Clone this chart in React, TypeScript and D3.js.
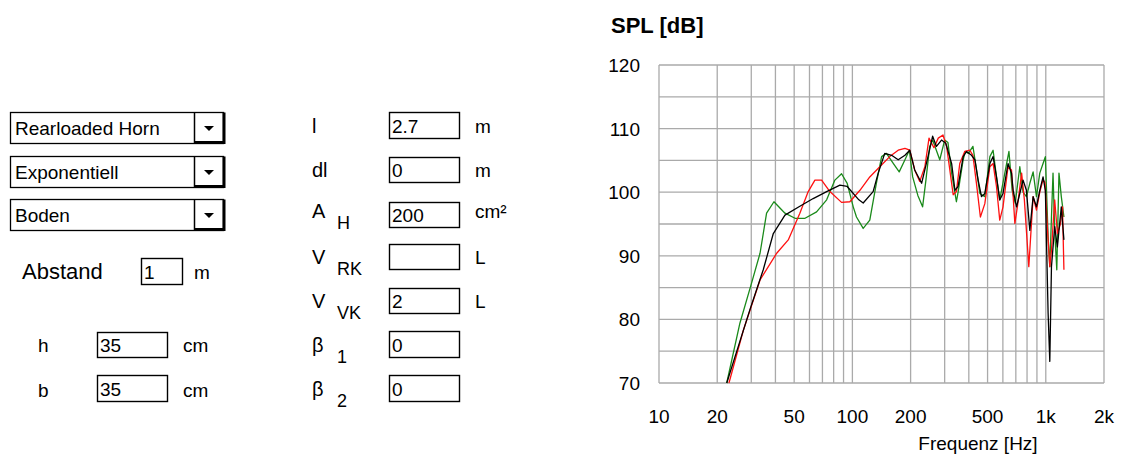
import React from "react";
import * as d3 from "d3";

// ---------- data ----------
const blackFreq = [22.4, 29.5, 34.6, 39, 44.8, 53.5, 62.7, 73.6, 86.2, 94, 108, 113.7, 128, 136, 147, 159.5, 172.5, 187, 198, 210, 228, 246, 260, 272, 289, 304, 326, 339, 352, 374, 389, 413, 430, 447, 465, 484, 514, 534, 556, 578, 601, 638, 665, 678, 706, 734, 763, 794, 827, 860, 895, 931, 968, 995, 1028, 1049, 1070, 1112, 1148, 1203, 1241];
const blackSpl = [70, 81.5, 87.8, 93.5, 96.4, 97.8, 99.0, 100.1, 101.1, 100.9, 98.8, 98.3, 100.1, 103, 106.1, 105.8, 105.1, 105.8, 106.6, 103.5, 101.4, 105.6, 108.8, 107.2, 108.2, 107.7, 104.5, 100.3, 100.9, 105.6, 106.4, 105.8, 105.1, 101.9, 99.3, 99.8, 104.5, 105.6, 102.4, 98.8, 99.8, 104.5, 103, 100.3, 97.7, 99.8, 101.9, 100.3, 94, 99.3, 97.7, 100.3, 102.4, 100.3, 81, 73.4, 88.3, 94.6, 91.4, 97.7, 92.5];

const redFreq = [23, 27.3, 33.3, 40.6, 46.6, 53.5, 59.1, 64, 69.3, 76.5, 87.9, 97, 109.4, 123, 138.6, 156, 172.5, 187, 198, 210, 223, 237, 249, 264, 278, 294, 307, 319, 332, 345, 359, 381, 405, 420, 438, 459, 484, 514, 534, 556, 578, 601, 638, 665, 692, 713, 750, 775, 817, 860, 895, 931, 968, 990, 1028, 1049, 1070, 1112, 1148, 1190, 1220, 1241];
const redSpl = [70, 78.3, 86.2, 90.4, 92.5, 96.7, 100.1, 101.9, 101.9, 100.1, 98.4, 98.5, 100.3, 102.4, 104, 105.6, 106.6, 106.9, 106.6, 103.5, 101.7, 104, 108.5, 107, 108.5, 109, 107.2, 103.5, 99.6, 100.1, 104.5, 106.4, 106.6, 105.8, 101.4, 96.1, 98.2, 104, 104.5, 100.9, 95.6, 97.7, 104, 103.5, 95.1, 97.7, 103, 98.8, 88.3, 99.3, 97.2, 100, 102, 101.5, 92.5, 88.3, 90.9, 98.8, 93.5, 95, 97.7, 87.8];

const greenFreq = [22.4, 26.2, 30.1, 33.3, 36, 39.3, 44.8, 50.5, 56.9, 65.3, 73.6, 81.2, 87.9, 94, 101, 105, 113.7, 123, 133, 141.6, 150, 163, 174.6, 187, 197, 205, 218, 230.7, 240, 251, 260, 283, 300, 312, 326, 345, 352, 374, 383, 398, 420, 436, 456, 484, 514, 534, 556, 578, 614, 645, 670, 695, 734, 763, 794, 827, 860, 895, 931, 968, 995, 1028, 1049, 1070, 1090, 1112, 1140, 1170, 1203, 1241];
const greenSpl = [70, 79.4, 85.7, 90.4, 96.7, 98.5, 96.7, 95.9, 95.9, 96.9, 98.8, 101.9, 102.9, 101.4, 97.7, 96.1, 94.3, 95.6, 101.4, 105.6, 106.1, 104.5, 103.2, 105.1, 106.6, 102.4, 99.5, 97.7, 101.9, 107.2, 108.2, 105.1, 108.2, 107.8, 103, 98.5, 100, 105.1, 106.4, 106.1, 107.2, 104, 99.8, 99.3, 105.6, 106.6, 102.4, 98.8, 103, 106.4, 100.3, 98.3, 104, 100, 99.3, 101.4, 103.2, 99.3, 103, 104.5, 105.6, 93, 88.3, 96.1, 103, 94, 87.8, 103, 99.3, 96.1];

const yTickValues = [70, 80, 90, 100, 110, 120];
const yGridValues = [70, 75, 80, 85, 90, 95, 100, 105, 110, 115, 120];
const xTickValues = [10, 20, 50, 100, 200, 500, 1000, 2000];
const xTickLabels = ["10", "20", "50", "100", "200", "500", "1k", "2k"];
const xGridValues = [10, 20, 30, 40, 50, 60, 70, 80, 90, 100, 200, 300, 400, 500, 600, 700, 800, 900, 1000, 2000];

const dropdownLabels = ["Rearloaded Horn", "Exponentiell", "Boden"];
const leftParamLabels = ["Abstand", "h", "b"];
const leftParamValues = ["1", "35", "35"];
const leftParamUnits = ["m", "cm", "cm"];
const rightParamMain = ["l", "dl", "A", "V", "V", "β", "β"];
const rightParamSub = ["", "", "H", "RK", "VK", "1", "2"];
const rightParamValues = ["2.7", "0", "200", "", "2", "0", "0"];
const rightParamUnits = ["m", "m", "cm²", "L", "L", "", ""];

// ---------- layout ----------
const W = 1122, H = 457;
const plot = { left: 659, right: 1104, top: 65, bottom: 383 };
const FONT = "'Liberation Sans', Arial, sans-serif";

export default function App() {
  const x = d3.scaleLog().domain([10, 2000]).range([plot.left, plot.right]);
  const y = d3.scaleLinear().domain([70, 120]).range([plot.bottom, plot.top]);
  const line = d3
    .line<[number, number]>()
    .x((d) => x(d[0]))
    .y((d) => y(d[1]));

  const series = [
    { f: greenFreq, v: greenSpl, color: "#1a8a1a" },
    { f: redFreq, v: redSpl, color: "#ff1010" },
    { f: blackFreq, v: blackSpl, color: "#000000" },
  ];

  const ddTops = [112, 156, 199];
  const leftRows = [
    { lx: 22, base: 279, fs: 22, bx: 141, by: 258, bw: 41, bh: 26, ux: 194 },
    { lx: 38, base: 352, fs: 19, bx: 97, by: 332, bw: 70, bh: 25, ux: 183 },
    { lx: 38, base: 397, fs: 19, bx: 97, by: 375, bw: 70, bh: 26, ux: 183 },
  ];
  const rightBoxTops = [112, 157, 202, 244, 288, 331, 375];
  const rightBoxH = [26, 25, 25, 25, 25, 26, 26];
  const mainBaseOffset = [-5, -5, -9, -5, -5, -5, -5];

  return (
    <svg
      width={W}
      height={H}
      style={{ position: "absolute", left: 0, top: 0, background: "#fff" }}
      fontFamily={FONT}
    >
      <rect x={0} y={0} width={W} height={H} fill="#fff" />

      {/* dropdowns */}
      {dropdownLabels.map((lab, i) => {
        const t = ddTops[i];
        return (
          <g key={"dd" + i}>
            <rect x={10.5} y={t + 0.5} width={213} height={31} fill="#fff" stroke="#000" strokeWidth={1.3} />
            <line x1={194.5} y1={t} x2={194.5} y2={t + 32} stroke="#000" strokeWidth={1.5} />
            <path d={`M194.5,${t + 30.5} H224 V${t + 0.5}`} fill="none" stroke="#000" strokeWidth={3} />
            <path d={`M204,${t + 14} h10 l-5,5 z`} fill="#000" />
            <text x={15} y={t + 23} fontSize={19} fill="#000">{lab}</text>
          </g>
        );
      })}

      {/* left parameters */}
      {leftParamLabels.map((lab, i) => {
        const r = leftRows[i];
        return (
          <g key={"lp" + i}>
            <text x={r.lx} y={r.base} fontSize={r.fs} fill="#000">{lab}</text>
            <rect x={r.bx + 0.5} y={r.by + 0.5} width={r.bw} height={r.bh} fill="#fff" stroke="#000" strokeWidth={1.4} />
            <text x={r.bx + 3} y={r.by + r.bh - 5} fontSize={19} fill="#000">{leftParamValues[i]}</text>
            <text x={r.ux} y={r.base} fontSize={19} fill="#000">{leftParamUnits[i]}</text>
          </g>
        );
      })}

      {/* right parameters */}
      {rightParamMain.map((lab, i) => {
        const by = rightBoxTops[i];
        const bh = rightBoxH[i];
        const base = by + bh + mainBaseOffset[i];
        return (
          <g key={"rp" + i}>
            <text x={312} y={base} fontSize={20} fill="#000">{lab}</text>
            {rightParamSub[i] && (
              <text x={337} y={base + 11} fontSize={18} fill="#000">{rightParamSub[i]}</text>
            )}
            <rect x={389.5} y={by + 0.5} width={70} height={bh} fill="#fff" stroke="#000" strokeWidth={1.4} />
            <text x={392} y={by + bh - 5} fontSize={19} fill="#000">{rightParamValues[i]}</text>
            {rightParamUnits[i] && (
              <text x={475} y={base - (i === 2 ? 0 : 0)} fontSize={19} fill="#000">{rightParamUnits[i]}</text>
            )}
          </g>
        );
      })}

      {/* chart */}
      <text x={611} y={33} fontSize={22} fontWeight="bold" fill="#000">SPL [dB]</text>

      <rect x={plot.left} y={plot.top} width={plot.right - plot.left} height={plot.bottom - plot.top} fill="#fff" />
      {yGridValues.map((v) => (
        <line key={"yg" + v} x1={plot.left} x2={plot.right} y1={y(v)} y2={y(v)} stroke="#aaaaaa" strokeWidth={1.3} />
      ))}
      {xGridValues.map((v) => (
        <line key={"xg" + v} x1={x(v)} x2={x(v)} y1={plot.top} y2={plot.bottom} stroke="#aaaaaa" strokeWidth={1.3} />
      ))}

      {series.map((s, i) => (
        <path
          key={"s" + i}
          d={line(s.f.map((f, j) => [f, s.v[j]] as [number, number])) || ""}
          fill="none"
          stroke={s.color}
          strokeWidth={1.3}
          strokeLinejoin="round"
        />
      ))}

      {yTickValues.map((v) => (
        <text key={"yt" + v} x={640} y={y(v) + 7} fontSize={19} textAnchor="end" fill="#000">
          {v}
        </text>
      ))}
      {xTickValues.map((v, i) => (
        <text key={"xt" + v} x={x(v)} y={423} fontSize={19} textAnchor="middle" fill="#000">
          {xTickLabels[i]}
        </text>
      ))}
      <text x={978} y={450} fontSize={19} textAnchor="middle" fill="#000">Frequenz [Hz]</text>
    </svg>
  );
}
